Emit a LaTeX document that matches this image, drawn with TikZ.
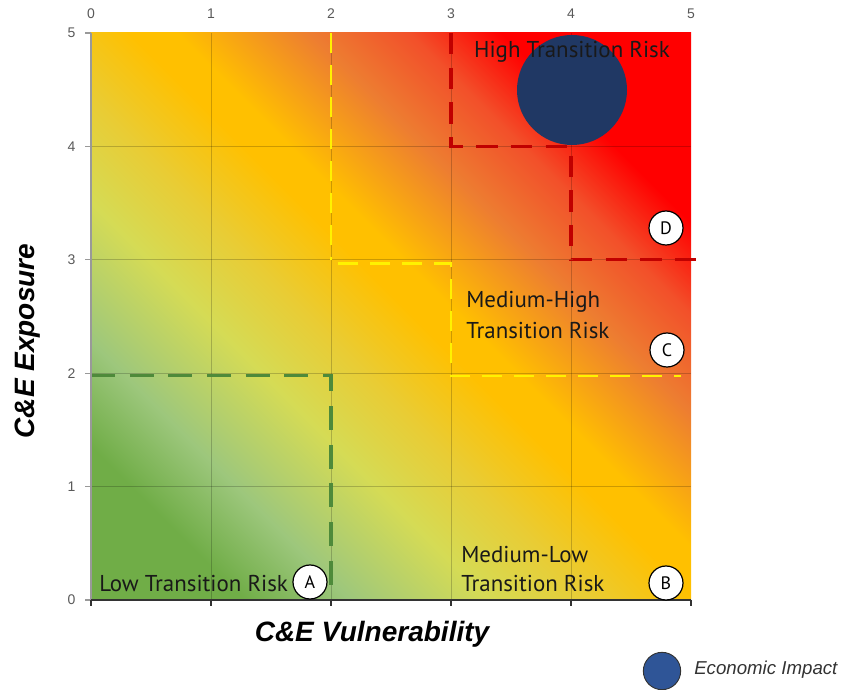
\documentclass[tikz,border=0pt]{standalone}
\usepackage{fontspec}
\setmainfont{Liberation Sans}
\newfontfamily\regfont{PT Sans}
\definecolor{gA}{HTML}{70AD47}
\definecolor{gB}{HTML}{9DC77C}
\definecolor{gC}{HTML}{D5DB55}
\definecolor{gD}{HTML}{E9CC34}
\definecolor{gE}{HTML}{FFC000}
\definecolor{gF}{HTML}{ED7D31}
\definecolor{gG}{HTML}{F2502A}
\definecolor{gH}{HTML}{FF0000}
\definecolor{navy}{HTML}{203864}
\definecolor{legblue}{HTML}{2F5597}
\definecolor{lowgreen}{HTML}{4E8A3A}
\definecolor{hired}{HTML}{C00000}
\definecolor{ticktext}{HTML}{595959}
\pgfdeclarehorizontalshading{riskshade}{100bp}{color(0bp)=(gA); color(14.6bp)=(gA); color(23.8bp)=(gA); color(30.2bp)=(gB); color(38.7bp)=(gC); color(45bp)=(gD); color(51.4bp)=(gE); color(54.2bp)=(gE); color(62.4bp)=(gF); color(68.4bp)=(gG); color(74bp)=(gH); color(100bp)=(gH)}
\begin{document}
\begin{tikzpicture}[x=0.75pt,y=0.75pt,
  gridline/.style={draw=black,opacity=0.2,line width=0.6pt},
  ticklabel/.style={font=\fontsize{10.5}{12}\selectfont, text=ticktext, inner sep=0pt},
  region/.style={font=\regfont\fontsize{17.2}{23.25}\selectfont, text=black!90, inner sep=0pt, align=left},
  letter/.style={circle, draw=black, fill=white, line width=0.9pt, minimum size=25.5pt, inner sep=0pt, font=\regfont\fontsize{13.5}{14}\selectfont},
  lowline/.style={draw=lowgreen, line width=2.4pt, dash pattern=on 18pt off 11pt},
  midline/.style={draw=yellow, line width=2.2pt, dash pattern=on 15pt off 9pt},
  highline/.style={draw=hired, line width=2.5pt, dash pattern=on 16pt off 10pt},
  axistitle/.style={font=\bfseries\itshape\fontsize{21}{24}\selectfont, inner sep=0pt}
]
\useasboundingbox (0,0) rectangle (844,690);
\coordinate (P00) at (91,90);
\coordinate (P55) at (691,657);
\shade[shading=riskshade, shading angle=45] (P00) rectangle (P55);
\begin{scope}[shift={(91,90)}, x=90pt, y=85.05pt]
  \foreach \i in {1,...,4} {
    \draw[gridline] (\i,0) -- (\i,5);
    \draw[gridline] (0,\i) -- (5,\i);
  }
  % low risk boundary
  \coordinate (l1) at (0,1.98);
  \coordinate (l2) at (2,1.98);
  \coordinate (l3) at (2,0);
  \draw[lowline] (l1) -- (l2) -- (l3);
  % medium-high boundary
  \coordinate (m1) at (2,5);
  \coordinate (m2) at (2,3);
  \coordinate (m3) at (2.06,2.965);
  \coordinate (m4) at (3,2.965);
  \coordinate (m5) at (3,1.975);
  \coordinate (m6) at (4.92,1.975);
  \draw[midline] (m1) -- (m2);
  \draw[midline] (m3) -- (m4) -- (m5) -- (m6);
  % high boundary
  \coordinate (h1) at (3,5);
  \coordinate (h2) at (3,4);
  \coordinate (h3) at (4,4);
  \coordinate (h4) at (4,3);
  \coordinate (h5) at (5.04,3);
  \draw[highline] (h1) -- (h2) -- (h3) -- (h4) -- (h5);
  % axes
  \draw[draw=black!40, line width=0.8pt] (0,0) -- (0,5);
  \foreach \i in {0,...,5} {
    \draw[draw=black!40, line width=0.8pt] (0,\i) -- (-0.05,\i);
    \draw[draw=black!80, line width=0.8pt] (\i,0) -- (\i,-0.05);
  }
  \draw[draw=black!80, line width=1.1pt] (0,0) -- (5,0);
\end{scope}
% tick labels
\foreach \i in {0,...,5} {
  \node[ticklabel] (xt\i) at ({91+120*\i},676) {\i};
  \node[ticklabel] (yt\i) at (71.5,{90+113.4*\i}) {\i};
}
% economic impact bubble
\node[circle, fill=navy, minimum size=82.5pt, inner sep=0pt] (bubble) at (572,600) {};
% region labels
\node[region] (high) at (572,638) {High Transition Risk};
\node[region, anchor=west] (medhigh) at (466,374.5) {Medium-High\\Transition Risk};
\node[region, anchor=west, font=\regfont\fontsize{17.2}{21.75}\selectfont] (medlow) at (461,120.5) {Medium-Low\\Transition Risk};
\node[region, anchor=west] (low) at (99,106) {Low Transition Risk};
% letters
\node[letter] (A) at (310,108) {A};
\node[letter] (B) at (666,107) {B};
\node[letter] (C) at (667,340) {C};
\node[letter] (D) at (666,462) {D};
% axis titles
\node[axistitle] (xtitle) at (372,56) {C\&E Vulnerability};
\node[axistitle, rotate=90] (ytitle) at (28,349) {C\&E Exposure};
% legend
\node[circle, fill=legblue, draw=black!80, line width=0.7pt, minimum size=28pt, inner sep=0pt] (legdot) at (662,19) {};
\node[anchor=west, inner sep=0pt, font=\itshape\fontsize{14}{16}\selectfont, text=black!80] (legtext) at (694,20) {Economic Impact};
\end{tikzpicture}
\end{document}
